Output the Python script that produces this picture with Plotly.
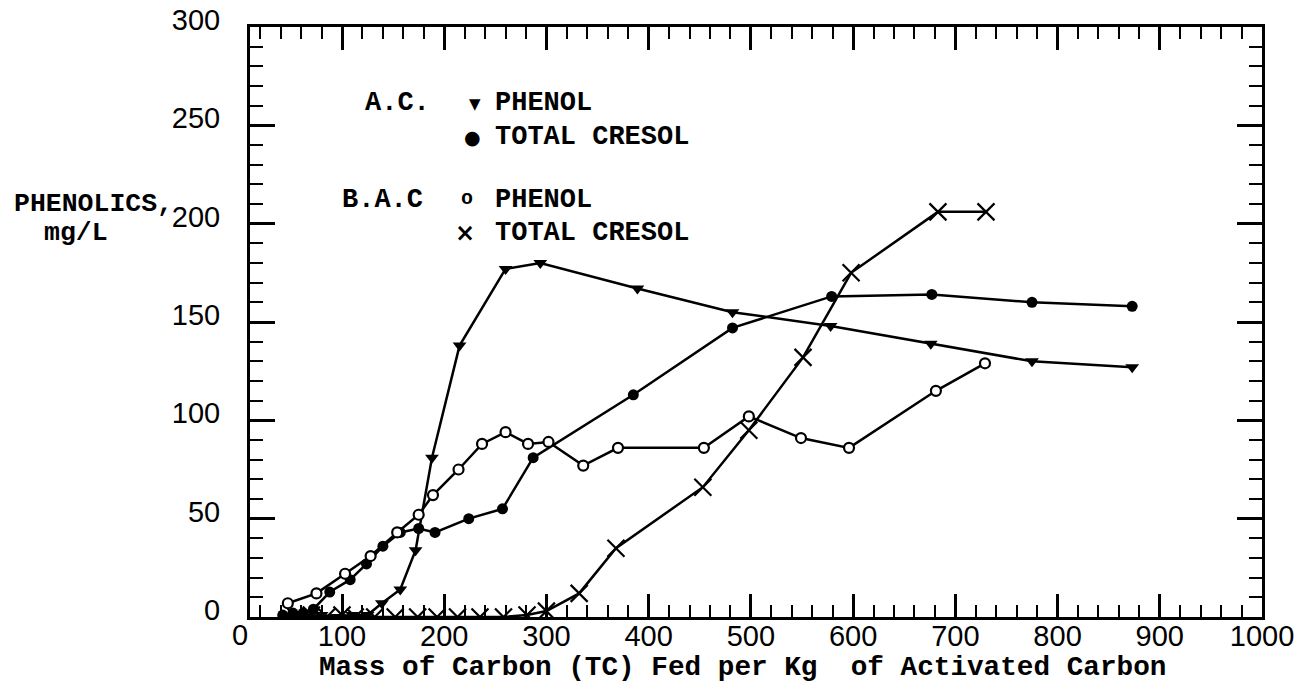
import plotly.graph_objects as go

# Phenolics in effluent vs. carbon loading (mg/L)
ac_phenol_x = [45, 55, 65, 80, 95, 110, 125, 139, 157, 172, 188, 215, 260, 294, 389, 482, 578, 676, 775, 873]
ac_phenol_y = [0, 1, 0, 1, 0, 1, 1, 7, 14, 34, 81, 138, 177, 180, 167, 155, 148, 139, 130, 127]

ac_cresol_x = [42, 52, 62, 72, 88, 108, 124, 140, 157, 175, 191, 224, 257, 287, 385, 482, 579, 677, 775, 873]
ac_cresol_y = [1, 2, 2, 4, 12.7, 19, 27, 36, 43, 45, 43, 50, 55, 81, 113, 147, 163, 164, 160, 158]

bac_phenol_x = [47, 75, 103, 128, 154, 175, 189, 214, 237, 260, 282, 302, 336, 370, 454, 498, 549, 596, 681, 729]
bac_phenol_y = [7, 12, 22, 31, 43, 52, 62, 75, 88, 94, 88, 89, 77, 86, 86, 102, 91, 86, 115, 129]

bac_cresol_x = [55, 70, 85, 100, 113, 132, 152, 174, 193, 213, 235, 258, 281, 300, 332, 368, 453, 498, 551, 598, 683, 730]
bac_cresol_y = [0, 1, 0, 1, 0, 0, 0, 0, 0, 0, 0, 0, 1, 3, 12, 35, 66, 95, 132, 175, 206, 206]

x_title = "Mass of Carbon (TC) Fed per Kg\u00a0 of Activated Carbon"
y_title_lines = ["PHENOLICS,", "mg/L"]

W, H = 1298, 694
L, R, T, B = 250, 36, 27, 77
PW, PH = W - L - R, H - T - B

MONO = "Liberation Mono"
SANS = "Liberation Sans"
INK = "black"


def px(xp):
    return (xp - L) / PW


def py(yp):
    return (H - B - yp) / PH


fig = go.Figure()

line = dict(color=INK, width=2.5)
fig.add_trace(go.Scatter(x=ac_phenol_x, y=ac_phenol_y, mode="lines+markers", line=line,
                         marker=dict(symbol="triangle-down", size=12, color=INK)))
fig.add_trace(go.Scatter(x=ac_cresol_x, y=ac_cresol_y, mode="lines+markers", line=line,
                         marker=dict(symbol="circle", size=11, color=INK)))
fig.add_trace(go.Scatter(x=bac_phenol_x, y=bac_phenol_y, mode="lines+markers", line=line,
                         marker=dict(symbol="circle", size=10, color="white",
                                     line=dict(color=INK, width=2.2))))
fig.add_trace(go.Scatter(x=bac_cresol_x, y=bac_cresol_y, mode="lines+markers", line=line,
                         marker=dict(symbol="x-thin", size=17, color=INK,
                                     line=dict(color=INK, width=2.2))))

ann = []


def text(s, xp, yp, xanchor="left", size=27, family=MONO, weight="bold"):
    ann.append(dict(text=s, x=px(xp), y=py(yp), xref="paper", yref="paper",
                    xanchor=xanchor, yanchor="middle", showarrow=False,
                    font=dict(family=family, size=size, color=INK, weight=weight)))


# key
text("A.C.", 432, 103, xanchor="right")
text("\u25bc", 475, 104, xanchor="center", size=15, family="DejaVu Sans")
text("PHENOL", 493, 103)
text("\u25cf", 472, 137, xanchor="center", size=19, family="DejaVu Sans")
text("TOTAL CRESOL", 493, 137)
text("B.A.C", 425, 200, xanchor="right")
text("o", 467, 199, xanchor="center", size=20)
text("PHENOL", 493, 200)
text("\u00d7", 465, 233, xanchor="center", size=24, family="DejaVu Sans")
text("TOTAL CRESOL", 493, 233)

# axis titles
text(y_title_lines[0], 12, 204, size=26.5)
text(y_title_lines[1], 42, 233, size=26.5)
text(x_title, 742, 667, xanchor="center", size=27.7)
# origin label for the x axis (axis starts just right of zero)
text("0", 240, 635, xanchor="center", size=29, family=SANS, weight="normal")

fig.update_layout(
    width=W, height=H, autosize=False,
    margin=dict(l=L, r=R, t=T, b=B, pad=0),
    paper_bgcolor="white", plot_bgcolor="white",
    showlegend=False,
    annotations=ann,
    xaxis=dict(range=[10, 1000], tickmode="linear", tick0=0, dtick=100,
               automargin=False,
               ticks="inside", ticklen=23, tickwidth=2.5, tickcolor=INK,
               showline=True, linewidth=3, linecolor=INK, mirror="ticks",
               showgrid=False, zeroline=False, ticklabelstandoff=-9,
               tickfont=dict(family=SANS, size=29, color=INK),
               minor=dict(tickmode="linear", tick0=0, dtick=20, ticks="inside",
                          ticklen=12, tickwidth=2, tickcolor=INK, showgrid=False)),
    yaxis=dict(range=[0, 300], tickmode="linear", tick0=0, dtick=50,
               automargin=False,
               ticks="inside", ticklen=25, tickwidth=2.5, tickcolor=INK,
               showline=True, linewidth=3, linecolor=INK, mirror="ticks",
               showgrid=False, zeroline=False, ticklabelstandoff=21, ticklabelshift=-7,
               tickfont=dict(family=SANS, size=29, color=INK),
               minor=dict(tickmode="linear", tick0=0, dtick=10, ticks="inside",
                          ticklen=13, tickwidth=2, tickcolor=INK, showgrid=False)),
)

fig.write_html("out.html")
